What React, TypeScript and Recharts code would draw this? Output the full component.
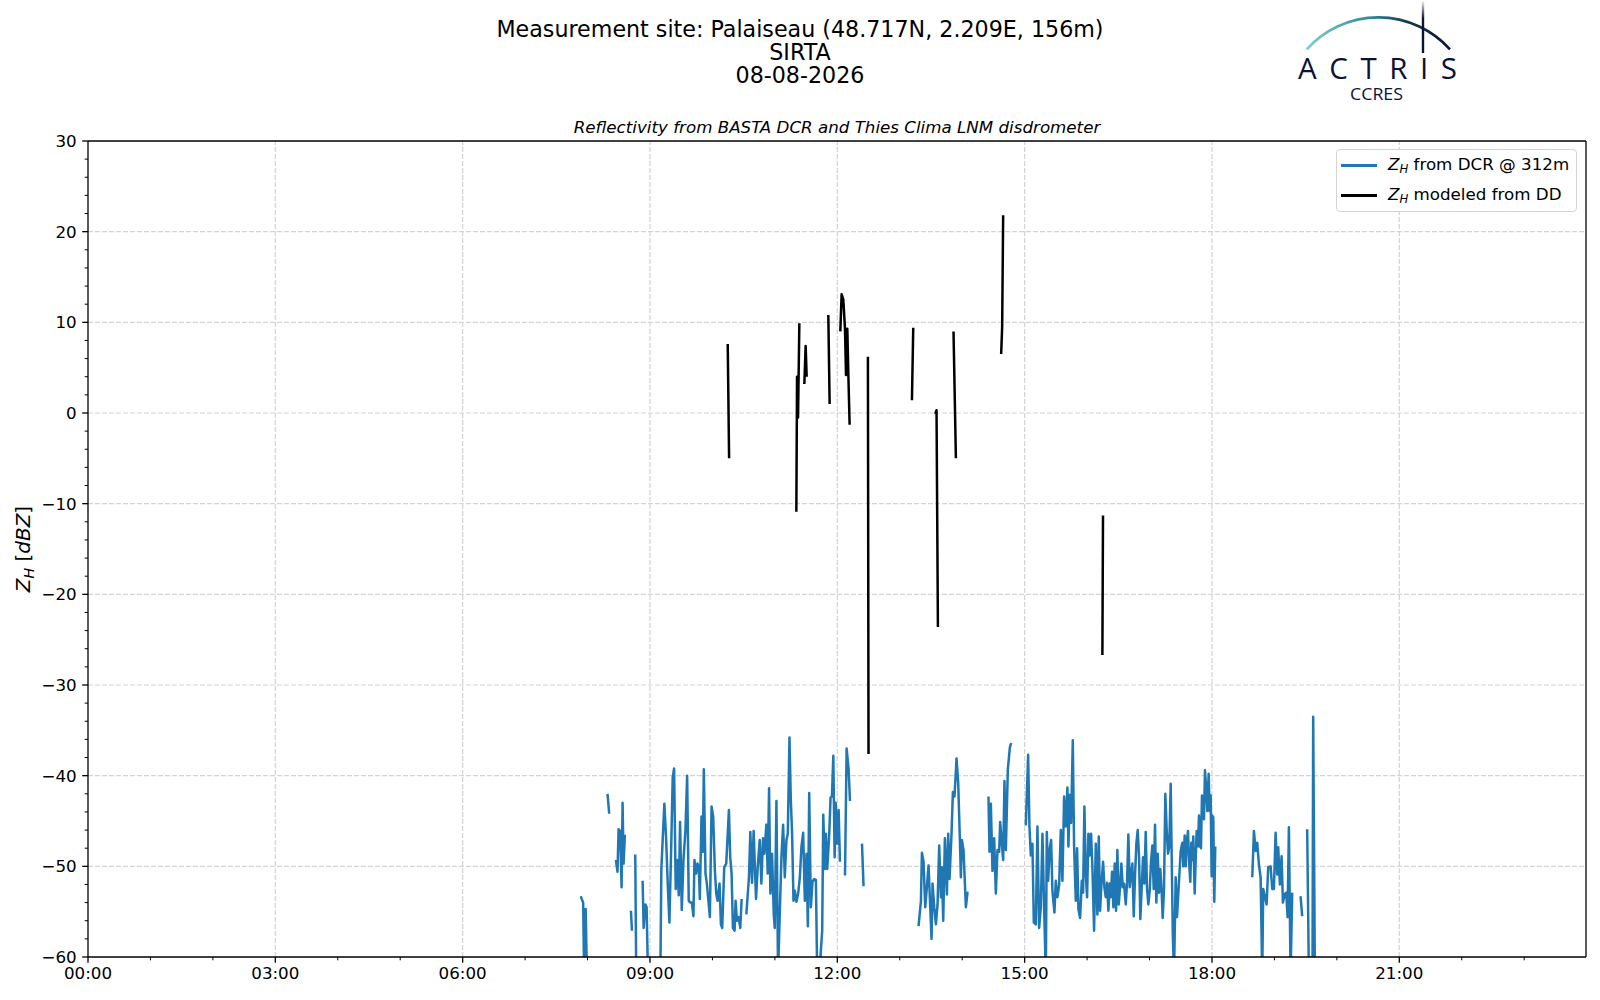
import React from 'react';
import { LineChart, Line, XAxis, YAxis, ReferenceLine } from 'recharts';

// ---- axis ticks ----
const hourTicks = [0, 3, 6, 9, 12, 15, 18, 21];
const hourMinorTicks = [1, 2, 4, 5, 7, 8, 10, 11, 13, 14, 16, 17, 19, 20, 22, 23];
const dbzTicks = [30, 20, 10, 0, -10, -20, -30, -40, -50, -60];
const dbzMinorTicks = [28, 26, 24, 22, 18, 16, 14, 12, 8, 6, 4, 2, -2, -4, -6, -8, -12, -14, -16, -18, -22, -24, -26, -28, -32, -34, -36, -38, -42, -44, -46, -48, -52, -54, -56, -58];
const hourGrid = [3, 6, 9, 12, 15, 18, 21];
const dbzGrid = [20, 10, 0, -10, -20, -30, -40, -50];

// ---- Z_H from DCR @ 312m : [hour of day, dBZ] (null = no data) ----
const dcrReadings: Array<[number, number | null]> = [
  [7.89, -53.3], [7.93, -54.0], [7.945, -62], [7.97, -54.7], [7.99, -62], [8.1, null],
  [8.32, -42.0], [8.347, -44.2], [8.4, null],
  [8.454, -49.3], [8.48, -50.6], [8.497, -45.9], [8.523, -46.1], [8.545, -52.3], [8.561, -43.0], [8.577, -49.7], [8.598, -46.5], [8.65, null],
  [8.695, -54.9], [8.711, -57.1], [8.74, null],
  [8.764, -48.7], [8.78, -62], [8.83, null],
  [8.882, -51.6], [8.898, -56.8], [8.925, -54.2], [8.946, -54.5], [8.968, -62],
  [9.166, -62], [9.182, -50.3], [9.23, -43.1], [9.257, -46.7], [9.284, -51.9], [9.311, -56.2], [9.338, -48.4], [9.364, -40.2], [9.386, -39.2],
  [9.412, -52.5], [9.434, -49.3], [9.461, -53.2], [9.482, -45.1], [9.509, -54.8], [9.536, -49.3], [9.568, -46.0], [9.595, -40.0], [9.621, -53.8],
  [9.648, -54.0], [9.67, -54.0], [9.696, -55.5], [9.712, -49.3], [9.739, -50.8], [9.761, -49.7], [9.782, -50.1], [9.798, -53.6], [9.825, -44.5],
  [9.846, -48.4], [9.862, -39.3], [9.889, -50.8], [9.911, -51.9], [9.959, -55.6], [9.986, -43.4], [10.012, -44.5], [10.039, -50.4], [10.061, -53.0],
  [10.082, -53.8], [10.114, -51.9], [10.136, -56.4], [10.157, -56.8], [10.189, -50.1], [10.221, -49.7], [10.264, -43.8], [10.285, -49.0],
  [10.307, -50.8], [10.328, -56.8], [10.355, -57.1], [10.371, -53.8], [10.393, -56.0], [10.419, -55.6], [10.446, -56.8], [10.468, -53.6], [10.5, null],
  [10.543, -55.3], [10.585, -51.2], [10.607, -46.2], [10.634, -51.8], [10.66, -46.1], [10.698, -53.6], [10.725, -50.1], [10.757, -47.1],
  [10.784, -51.9], [10.81, -46.9], [10.832, -48.6], [10.864, -45.4], [10.885, -50.8], [10.907, -41.4], [10.928, -53.0], [10.955, -48.6],
  [10.982, -55.3], [10.998, -56.8], [11.025, -42.8], [11.051, -62], [11.078, -55.3], [11.105, -49.0], [11.132, -45.4], [11.159, -51.2],
  [11.185, -47.1], [11.207, -46.4], [11.234, -35.8], [11.255, -42.6], [11.276, -46.4], [11.298, -53.8], [11.319, -52.7], [11.346, -53.9],
  [11.373, -53.0], [11.4, -51.2], [11.426, -47.8], [11.453, -46.3], [11.48, -53.8], [11.507, -48.6], [11.528, -56.6], [11.55, -41.9],
  [11.576, -54.5], [11.603, -51.7], [11.63, -51.4], [11.657, -51.5], [11.678, -62], [11.71, -62], [11.758, -57.1], [11.775, -44.3],
  [11.801, -50.3], [11.817, -46.4], [11.839, -50.3], [11.871, -46.4], [11.892, -42.4], [11.914, -42.3], [11.936, -37.8], [11.957, -49.0],
  [11.973, -43.0], [12.0, -47.5], [12.021, -43.8], [12.042, -49.5], [12.08, null],
  [12.123, -51.0], [12.149, -37.0], [12.181, -39.3], [12.203, -42.8], [12.3, null],
  [12.395, -47.5], [12.42, -52.2], [12.6, null],
  [13.301, -56.6], [13.339, -53.8], [13.355, -48.5], [13.381, -49.5], [13.408, -54.5], [13.432, -52.5], [13.461, -49.9], [13.509, -58.0],
  [13.525, -51.9], [13.552, -54.5], [13.579, -56.4], [13.605, -54.2], [13.632, -47.7], [13.659, -53.4], [13.675, -50.1], [13.696, -56.0],
  [13.723, -46.9], [13.755, -53.1], [13.776, -46.4], [13.797, -51.4], [13.829, -46.4], [13.851, -41.8], [13.877, -42.3], [13.909, -38.1],
  [13.936, -40.8], [13.963, -47.1], [13.979, -51.2], [13.995, -47.1], [14.021, -48.2], [14.059, -54.5], [14.085, -52.9], [14.101, -52.9], [14.2, null],
  [14.421, -42.3], [14.437, -48.4], [14.459, -43.1], [14.485, -50.5], [14.512, -46.9], [14.539, -53.0], [14.565, -48.2], [14.592, -48.4],
  [14.608, -45.1], [14.635, -47.5], [14.656, -49.3], [14.677, -40.6], [14.699, -48.2], [14.731, -39.3], [14.763, -36.9], [14.784, -36.4], [14.9, null],
  [15.019, -45.5], [15.056, -37.7], [15.077, -45.6], [15.099, -48.8], [15.125, -47.5], [15.147, -56.2], [15.179, -56.4], [15.205, -45.6],
  [15.232, -56.8], [15.259, -54.5], [15.285, -46.4], [15.312, -54.5], [15.339, -62], [15.355, -46.2], [15.376, -51.6], [15.403, -48.0],
  [15.424, -47.1], [15.445, -52.7], [15.477, -55.1], [15.499, -51.6], [15.525, -53.4], [15.552, -52.1], [15.579, -46.0], [15.605, -51.6],
  [15.632, -42.3], [15.659, -45.6], [15.685, -41.3], [15.701, -47.8], [15.723, -42.1], [15.744, -45.2], [15.771, -36.1], [15.792, -47.8],
  [15.819, -53.8], [15.84, -48.0], [15.861, -54.7], [15.888, -55.7], [15.915, -51.6], [15.936, -52.9], [15.957, -43.4], [15.979, -50.8],
  [16.0, -53.4], [16.021, -46.4], [16.043, -48.8], [16.064, -46.4], [16.085, -50.1], [16.112, -57.1], [16.139, -47.5], [16.165, -55.3],
  [16.187, -46.7], [16.208, -54.9], [16.229, -52.1], [16.256, -49.5], [16.277, -52.3], [16.299, -53.4], [16.32, -51.8], [16.341, -54.9],
  [16.363, -51.9], [16.379, -53.4], [16.4, -50.6], [16.421, -54.5], [16.443, -49.7], [16.464, -54.9], [16.485, -48.2], [16.507, -54.2],
  [16.528, -52.3], [16.549, -49.7], [16.571, -52.3], [16.592, -51.9], [16.619, -54.2], [16.64, -51.8], [16.661, -46.5], [16.683, -52.3],
  [16.704, -50.8], [16.725, -49.7], [16.747, -55.5], [16.768, -51.0], [16.789, -47.5], [16.811, -46.0], [16.832, -49.0], [16.853, -55.8],
  [16.875, -52.3], [16.896, -49.0], [16.917, -51.9], [16.939, -46.2], [16.96, -52.5], [16.981, -54.2], [17.003, -52.7], [17.024, -49.5],
  [17.045, -47.7], [17.067, -52.5], [17.088, -45.4], [17.109, -54.0], [17.131, -48.6], [17.152, -52.9], [17.173, -50.3], [17.195, -52.9],
  [17.211, -55.7], [17.232, -52.5], [17.253, -42.0], [17.275, -46.0], [17.296, -48.6], [17.317, -47.8], [17.339, -40.9], [17.355, -49.0],
  [17.373, -57.5], [17.392, -62], [17.419, -51.2], [17.44, -55.6], [17.461, -53.0],
  [17.499, -48.3], [17.525, -47.4], [17.541, -50.0], [17.563, -46.6], [17.579, -50.0], [17.595, -47.4], [17.616, -46.1], [17.632, -49.3],
  [17.653, -51.7], [17.669, -47.4], [17.685, -49.3], [17.701, -46.7], [17.723, -53.0], [17.739, -49.3], [17.755, -46.1], [17.776, -47.8],
  [17.792, -44.4], [17.808, -47.8], [17.824, -48.0], [17.84, -42.2], [17.856, -42.4], [17.872, -44.8], [17.888, -39.4], [17.909, -41.5],
  [17.925, -43.9], [17.947, -39.8], [17.963, -43.9], [17.979, -42.2], [17.995, -51.1], [18.005, -44.4], [18.021, -44.6], [18.037, -53.9],
  [18.053, -47.8], [18.3, null],
  [18.645, -51.2], [18.672, -46.1], [18.699, -48.3], [18.725, -47.4], [18.752, -49.8], [18.779, -51.2], [18.805, -62], [18.821, -52.5],
  [18.875, -54.2], [18.901, -50.1], [18.939, -50.0], [18.965, -52.5], [18.992, -52.5], [19.019, -46.3], [19.045, -50.9], [19.061, -47.9],
  [19.088, -52.0], [19.115, -48.9], [19.136, -54.0], [19.163, -53.1], [19.189, -52.9], [19.211, -55.6], [19.232, -45.7], [19.259, -62],
  [19.285, -52.9], [19.35, null],
  [19.419, -53.3], [19.445, -55.5], [19.49, null],
  [19.525, -45.9], [19.552, -62], [19.58, null],
  [19.61, -62], [19.621, -33.5], [19.648, -62],
];

// ---- Z_H modeled from disdrometer : [hour of day, dBZ] (null = no data) ----
const ddReadings: Array<[number, number | null]> = [
  [10.245, 7.6], [10.267, -5.0], [10.8, null],
  [11.344, -10.9], [11.355, 4.0], [11.371, -0.5], [11.392, 9.9], [11.43, null],
  [11.472, 3.2], [11.493, 7.4], [11.509, 4.0], [11.7, null],
  [11.856, 10.8], [11.877, 1.0], [11.95, null],
  [12.048, 9.0], [12.069, 13.1], [12.096, 12.5], [12.123, 9.3], [12.139, 4.2], [12.16, 9.3], [12.176, 4.5], [12.197, -1.3], [12.3, null],
  [12.49, 6.2], [12.5, -37.6], [12.9, null],
  [13.195, 1.4], [13.216, 9.4], [13.4, null],
  [13.568, -0.1], [13.589, 0.3], [13.611, -23.6], [13.7, null],
  [13.861, 9.0], [13.899, -5.0], [14.2, null],
  [14.624, 6.5], [14.64, 9.5], [14.656, 21.8], [15.5, null],
  [16.245, -26.7], [16.255, -11.3],
];

const dcrRows = dcrReadings.map(([t, z]) => ({ t, z }));
const ddRows = ddReadings.map(([t, z]) => ({ t, z }));

const FONT = '"DejaVu Sans", sans-serif';
const fmtHour = (h: number) => `${String(h).padStart(2, '0')}:00`;
const fmtDbz = (v: number) => (v < 0 ? `\u2212${Math.abs(v)}` : String(v));

const W = 1600;
const H = 1000;
const X_END = 23.99;

const XTick = (props: any) => {
  const { x, y, payload } = props;
  const major = hourTicks.includes(payload.value);
  const len = major ? 5.8 : 3.3;
  return (
    <g>
      <line x1={x} x2={x} y1={y} y2={y + len} stroke="#000" strokeWidth={major ? 1.3 : 1} />
      {major && (
        <text x={x} y={y + 22} textAnchor="middle" fontFamily={FONT} fontSize={16.7} fill="#000">
          {fmtHour(payload.value)}
        </text>
      )}
    </g>
  );
};

const YTick = (props: any) => {
  const { x, y, payload } = props;
  const major = dbzTicks.includes(payload.value);
  const len = major ? 5.8 : 3.3;
  return (
    <g>
      <line x1={x - len} x2={x} y1={y} y2={y} stroke="#000" strokeWidth={major ? 1.3 : 1} />
      {major && (
        <text x={x - 11.3} y={y + 6.1} textAnchor="end" fontFamily={FONT} fontSize={16.7} fill="#000">
          {fmtDbz(payload.value)}
        </text>
      )}
    </g>
  );
};

const ZH = ({ size }: { size: number }) => (
  <span style={{ whiteSpace: 'nowrap' }}>
    <span style={{ fontStyle: 'italic' }}>Z</span>
    <span style={{ fontStyle: 'italic', fontSize: size * 0.7, position: 'relative', top: size * 0.2 }}>H</span>
  </span>
);

const LegendBox = () => (
  <div
    style={{
      position: 'absolute', left: 1336, top: 149, width: 241, height: 63, boxSizing: 'border-box',
      border: '1px solid #d4d4d4', borderRadius: 4, background: 'rgba(255,255,255,0.85)', fontFamily: FONT, fontSize: 16.7,
    }}
  >
    {[
      { color: '#1f77b4', text: ' from DCR @ 312m', y: 15 },
      { color: '#000000', text: ' modeled from DD', y: 45 },
    ].map((e) => (
      <div key={e.text} style={{ position: 'absolute', left: 0, top: e.y - 12, height: 24, width: 240 }}>
        <div style={{ position: 'absolute', left: 4, top: 11, width: 36, height: 2.5, background: e.color }} />
        <div style={{ position: 'absolute', left: 51, top: 0, lineHeight: '22px', whiteSpace: 'nowrap' }}>
          <ZH size={16.7} />
          {e.text}
        </div>
      </div>
    ))}
  </div>
);

const Logo = () => (
  <svg style={{ position: 'absolute', left: 0, top: 0 }} width={1600} height={120}>
    <defs>
      <linearGradient id="arcGrad" x1="1306" y1="0" x2="1450" y2="0" gradientUnits="userSpaceOnUse">
        <stop offset="0" stopColor="#7fd0cb" />
        <stop offset="0.45" stopColor="#2f8a95" />
        <stop offset="0.7" stopColor="#123a55" />
        <stop offset="1" stopColor="#0d1136" />
      </linearGradient>
      <linearGradient id="barGrad" x1="0" y1="0" x2="0" y2="53" gradientUnits="userSpaceOnUse">
        <stop offset="0" stopColor="#0d1136" stopOpacity="0" />
        <stop offset="0.35" stopColor="#0d1136" stopOpacity="1" />
        <stop offset="1" stopColor="#0d1136" stopOpacity="1" />
      </linearGradient>
    </defs>
    <path d="M1306.7,49.3 A96.3,96.3 0 0 1 1450,49.3" fill="none" stroke="url(#arcGrad)" strokeWidth={2.6} />
    <line x1={1423} y1={1} x2={1423} y2={53} stroke="url(#barGrad)" strokeWidth={2.4} />
    <text x={1298} y={78.5} fontFamily='"Open Sans", sans-serif' fontSize={29.5} fill="#0d1136" textLength={159} lengthAdjust="spacing">
      ACTRIS
    </text>
    <text x={1350} y={99.5} fontFamily='"Open Sans", sans-serif' fontSize={17} fill="#0d1136" textLength={53} lengthAdjust="spacingAndGlyphs">
      CCRES
    </text>
  </svg>
);

const centerText = (text: string, cx: number, cy: number, size: number, extra: React.CSSProperties = {}) => (
  <div
    style={{
      position: 'absolute', left: cx - 500, width: 1000, top: cy - size * 0.6, height: size * 1.2, lineHeight: `${size * 1.2}px`,
      textAlign: 'center', fontFamily: FONT, fontSize: size, color: '#000', whiteSpace: 'nowrap', ...extra,
    }}
  >
    {text}
  </div>
);

export default function App() {
  const spine = { stroke: '#000', strokeWidth: 1.3 };
  return (
    <div style={{ position: 'absolute', left: 0, top: 0, width: W, height: H, background: '#fff', fontFamily: FONT }}>
      <LineChart width={W} height={H} margin={{ top: 141, left: 0, right: 14, bottom: 0 }}>
        <XAxis type="number" dataKey="t" domain={[0, X_END]} ticks={[...hourTicks, ...hourMinorTicks]} interval={0}
          height={43} tickSize={0} tickMargin={0} tickLine={false} tick={<XTick />} axisLine={spine} allowDataOverflow />
        <YAxis type="number" domain={[-60, 30]} ticks={[...dbzTicks, ...dbzMinorTicks]} interval={0}
          width={88} tickSize={0} tickMargin={0} tickLine={false} tick={<YTick />} axisLine={spine} allowDataOverflow />
        {hourGrid.map((h) => (
          <ReferenceLine key={`gx${h}`} x={h} stroke="#d3d3d3" strokeWidth={1.2} strokeDasharray="4.9 2.1" />
        ))}
        {dbzGrid.map((v) => (
          <ReferenceLine key={`gy${v}`} y={v} stroke="#d3d3d3" strokeWidth={1.2} strokeDasharray="4.9 2.1" />
        ))}
        <Line data={dcrRows} dataKey="z" type="linear" stroke="#1f77b4" strokeWidth={2.5} dot={false}
          activeDot={false} connectNulls={false} isAnimationActive={false} strokeLinejoin="round" />
        <Line data={ddRows} dataKey="z" type="linear" stroke="#000000" strokeWidth={2.5} dot={false}
          activeDot={false} connectNulls={false} isAnimationActive={false} strokeLinejoin="round" />
        <ReferenceLine y={30} stroke="#000" strokeWidth={1.3} />
        <ReferenceLine x={X_END} stroke="#000" strokeWidth={1.3} />
      </LineChart>

      {centerText('Measurement site: Palaiseau (48.717N, 2.209E, 156m)', 800, 29, 22.2)}
      {centerText('SIRTA', 800, 52, 22.2)}
      {centerText('08-08-2026', 800, 75, 22.2)}
      {centerText('Reflectivity from BASTA DCR and Thies Clima LNM disdrometer', 837, 127, 16.7, { fontStyle: 'italic' })}

      <div
        style={{
          position: 'absolute', left: 23 - 100, top: 549 - 14, width: 200, height: 28, lineHeight: '28px',
          textAlign: 'center', transform: 'rotate(-90deg)', fontFamily: FONT, fontSize: 20, whiteSpace: 'nowrap',
        }}
      >
        <ZH size={20} /> [<span style={{ fontStyle: 'italic' }}>dBZ</span>]
      </div>

      <LegendBox />
      <Logo />
    </div>
  );
}
